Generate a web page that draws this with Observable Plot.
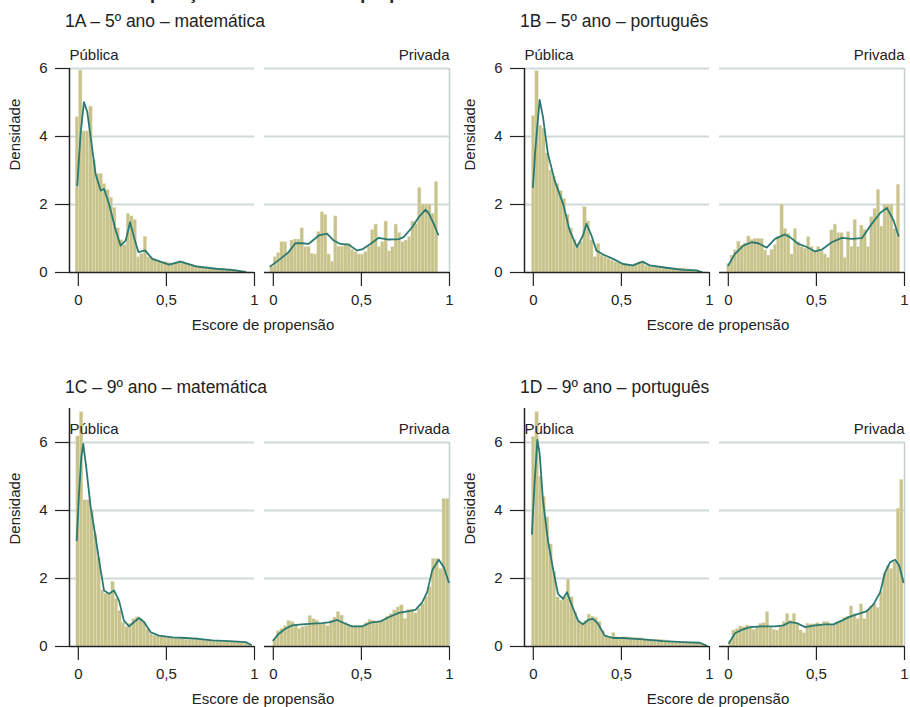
<!DOCTYPE html>
<html><head><meta charset="utf-8">
<script src="https://cdn.jsdelivr.net/npm/d3@7"></script>
<script src="https://cdn.jsdelivr.net/npm/@observablehq/plot@0.6"></script>
<style>
body{margin:0;background:#fff;}
#page{position:relative;width:910px;height:707px;overflow:hidden;font-family:"Liberation Sans",Arial,sans-serif;color:#222;}
.title{position:absolute;font-size:17.5px;line-height:17px;white-space:nowrap;}
.maintitle{position:absolute;font-size:18px;font-weight:bold;line-height:18px;white-space:nowrap;}
.xlab{position:absolute;font-size:15px;line-height:15px;white-space:nowrap;transform:translateX(-50%);}
.panel{position:absolute;}
</style></head><body><div id="page"></div>
<script>
// ---------- text ----------
const mainTitle = "Gráfico 1 – Comparação dos escores de propensão";
const panelTitles = ["1A – 5º ano – matemática", "1B – 5º ano – português", "1C – 9º ano – matemática", "1D – 9º ano – português"];
const facets = ["Pública", "Privada"];
const xLabel = "Escore de propensão";
const yLabel = "Densidade";
const yTicks = [0, 2, 4, 6];
const xTicks = [0, 0.5, 1];
const xTickLabels = ["0", "0,5", "1"];
const gridValues = [2, 4, 6];
const xDomain = [-0.05, 1.0];
const yMaxes = [6, 6, 7, 7];

// ---------- histograms: [lo, hi] range and bar heights ----------
const range1A_pub = [-0.015, 0.95];
const hist1A_pub = [4.57, 5.94, 4.15, 4.15, 4.88, 3.3, 2.9, 2.9, 2.6, 2.43, 2.2, 1.9, 1.3, 0.95, 0.8, 1.72, 1.65, 1.55, 0.45, 0.55, 1.05, 0.45, 0.42, 0.38, 0.35, 0.3, 0.3, 0.28, 0.25, 0.28, 0.33, 0.32, 0.28, 0.25, 0.22, 0.2, 0.18, 0.16, 0.15, 0.14, 0.12, 0.12, 0.1, 0.12, 0.1, 0.1, 0.08, 0.06, 0.05, 0.04];
const range1A_priv = [-0.017, 0.936];
const hist1A_priv = [0.17, 0.45, 0.57, 0.89, 0.89, 0.6, 0.94, 0.97, 0.97, 1.3, 0.75, 0.75, 0.55, 0.53, 1.19, 1.77, 1.7, 0.53, 0.32, 1.65, 0.76, 0.76, 0.84, 0.84, 0.67, 0.6, 0.53, 0.53, 0.6, 0.75, 1.25, 1.41, 0.75, 0.89, 1.5, 0.62, 0.75, 1.41, 1.16, 0.89, 0.94, 1.04, 1.5, 1.43, 2.49, 2.0, 2.0, 2.0, 1.73, 2.66];
const range1B_pub = [-0.008, 0.964];
const hist1B_pub = [4.6, 5.92, 4.32, 4.23, 3.5, 3.0, 2.82, 2.6, 2.4, 2.17, 1.7, 1.3, 0.95, 0.75, 0.9, 1.92, 1.5, 0.95, 0.45, 0.84, 0.5, 0.45, 0.4, 0.35, 0.3, 0.28, 0.25, 0.22, 0.2, 0.2, 0.25, 0.3, 0.28, 0.2, 0.18, 0.15, 0.15, 0.14, 0.12, 0.12, 0.12, 0.1, 0.1, 0.12, 0.12, 0.1, 0.08, 0.06, 0.04, 0.03];
const range1B_priv = [-0.006, 0.975];
const hist1B_priv = [0.25, 0.5, 0.65, 0.91, 0.79, 0.86, 1.06, 0.96, 0.99, 0.99, 0.99, 0.65, 0.5, 0.67, 0.81, 1.04, 2.0, 1.28, 1.14, 0.53, 1.28, 0.89, 0.75, 0.7, 1.04, 0.75, 0.63, 0.75, 0.62, 0.53, 0.43, 1.24, 1.41, 1.16, 1.16, 0.43, 1.19, 0.75, 1.55, 0.75, 1.38, 1.25, 0.75, 1.63, 1.87, 2.43, 1.35, 2.0, 2.0, 2.0, 1.28, 2.58];
const range1C_pub = [-0.011, 0.98];
const hist1C_pub = [6.18, 6.89, 4.3, 4.3, 4.0, 3.3, 2.6, 1.65, 1.55, 1.55, 1.9, 1.4, 1.05, 0.7, 0.57, 0.67, 0.8, 0.86, 0.8, 0.7, 0.5, 0.37, 0.32, 0.3, 0.28, 0.27, 0.25, 0.25, 0.24, 0.22, 0.22, 0.2, 0.2, 0.22, 0.25, 0.22, 0.2, 0.18, 0.16, 0.15, 0.14, 0.14, 0.13, 0.13, 0.12, 0.12, 0.12, 0.1, 0.08, 0.05];
const range1C_priv = [0.0, 1.0];
const hist1C_priv = [0.2, 0.45, 0.52, 0.6, 0.75, 0.72, 0.65, 0.52, 0.57, 0.6, 0.9, 0.8, 0.76, 0.67, 0.66, 0.6, 0.76, 0.85, 1.01, 0.91, 0.7, 0.62, 0.6, 0.6, 0.6, 0.6, 0.7, 0.78, 0.76, 0.72, 0.76, 0.76, 0.88, 0.95, 1.06, 1.15, 1.21, 0.81, 1.08, 1.08, 0.98, 1.11, 1.25, 1.45, 1.75, 2.58, 2.58, 2.28, 4.34, 4.34];
const range1D_pub = [-0.008, 0.98];
const hist1D_pub = [6.16, 6.89, 5.0, 4.4, 3.8, 3.0, 2.2, 1.45, 1.35, 1.45, 1.97, 1.45, 1.0, 0.75, 0.69, 0.75, 0.94, 0.88, 0.84, 0.72, 0.45, 0.3, 0.27, 0.4, 0.27, 0.25, 0.27, 0.27, 0.26, 0.25, 0.25, 0.24, 0.22, 0.2, 0.2, 0.2, 0.2, 0.19, 0.18, 0.16, 0.14, 0.12, 0.12, 0.11, 0.11, 0.11, 0.1, 0.1, 0.09, 0.06];
const range1D_priv = [0.004, 0.994];
const hist1D_priv = [0.16, 0.47, 0.52, 0.59, 0.57, 0.62, 0.57, 0.49, 0.57, 0.67, 0.69, 1.01, 0.55, 0.49, 0.47, 0.59, 0.72, 0.96, 0.76, 0.96, 0.65, 0.47, 0.39, 0.67, 0.65, 0.65, 0.69, 0.65, 0.73, 0.72, 0.65, 0.62, 0.72, 0.76, 0.84, 0.88, 1.18, 0.96, 0.81, 1.24, 0.81, 1.06, 1.18, 1.25, 1.14, 1.6, 2.14, 2.38, 2.28, 2.48, 4.05, 4.9];

// ---------- density curves ----------
const dens1A_pub_x = [-0.006, 0.013, 0.032, 0.051, 0.07, 0.098, 0.127, 0.146, 0.174, 0.212, 0.24, 0.269, 0.294, 0.316, 0.341, 0.379, 0.42, 0.515, 0.58, 0.667, 0.78, 0.894, 0.95];
const dens1A_pub_y = [2.56, 4.08, 5.01, 4.72, 3.98, 2.9, 2.41, 2.46, 2.02, 1.24, 0.79, 0.94, 1.48, 1.04, 0.6, 0.65, 0.4, 0.23, 0.32, 0.18, 0.11, 0.06, 0.01];
const dens1A_priv_x = [-0.017, 0.04, 0.087, 0.125, 0.163, 0.2, 0.258, 0.305, 0.343, 0.38, 0.428, 0.475, 0.504, 0.551, 0.598, 0.655, 0.712, 0.74, 0.788, 0.826, 0.864, 0.883, 0.911, 0.936];
const dens1A_priv_y = [0.18, 0.4, 0.6, 0.86, 0.86, 0.84, 1.09, 1.14, 0.94, 0.84, 0.82, 0.65, 0.68, 0.84, 1.02, 0.97, 0.98, 1.04, 1.33, 1.63, 1.85, 1.73, 1.43, 1.11];
const dens1B_pub_x = [-0.002, 0.011, 0.036, 0.055, 0.083, 0.121, 0.169, 0.206, 0.248, 0.282, 0.301, 0.33, 0.358, 0.396, 0.453, 0.509, 0.566, 0.619, 0.661, 0.756, 0.85, 0.926, 0.955];
const dens1B_pub_y = [2.51, 3.59, 5.08, 4.57, 3.49, 2.71, 2.02, 1.24, 0.75, 1.09, 1.43, 1.09, 0.65, 0.53, 0.4, 0.25, 0.21, 0.32, 0.21, 0.14, 0.08, 0.06, 0.01];
const dens1B_priv_x = [0.0, 0.038, 0.085, 0.133, 0.17, 0.218, 0.265, 0.322, 0.35, 0.398, 0.445, 0.492, 0.53, 0.587, 0.644, 0.7, 0.758, 0.814, 0.862, 0.9, 0.938, 0.966];
const dens1B_priv_y = [0.21, 0.55, 0.79, 0.89, 0.86, 0.73, 0.99, 1.12, 1.04, 0.84, 0.75, 0.62, 0.67, 0.89, 1.02, 0.99, 1.01, 1.43, 1.75, 1.9, 1.53, 1.08];
const dens1C_pub_x = [-0.009, 0.004, 0.017, 0.028, 0.045, 0.07, 0.098, 0.121, 0.146, 0.174, 0.203, 0.231, 0.259, 0.288, 0.316, 0.345, 0.373, 0.411, 0.458, 0.534, 0.61, 0.667, 0.761, 0.856, 0.95, 0.98];
const dens1C_pub_y = [3.12, 4.49, 5.57, 5.96, 5.27, 4.1, 3.22, 2.43, 1.65, 1.55, 1.65, 1.35, 0.76, 0.59, 0.72, 0.84, 0.72, 0.42, 0.32, 0.27, 0.25, 0.23, 0.18, 0.16, 0.13, 0.05];
const dens1C_priv_x = [0.0, 0.03, 0.068, 0.106, 0.163, 0.22, 0.277, 0.324, 0.362, 0.4, 0.447, 0.504, 0.551, 0.608, 0.655, 0.712, 0.769, 0.807, 0.845, 0.873, 0.902, 0.939, 0.968, 0.996];
const dens1C_priv_y = [0.18, 0.37, 0.52, 0.62, 0.65, 0.67, 0.69, 0.72, 0.78, 0.69, 0.59, 0.59, 0.7, 0.74, 0.86, 0.99, 1.04, 1.08, 1.3, 1.6, 2.24, 2.55, 2.33, 1.89];
const dens1D_pub_x = [-0.008, 0.008, 0.023, 0.036, 0.055, 0.083, 0.112, 0.14, 0.169, 0.191, 0.216, 0.254, 0.282, 0.311, 0.339, 0.367, 0.405, 0.453, 0.509, 0.557, 0.623, 0.737, 0.85, 0.945, 0.983];
const dens1D_pub_y = [3.31, 4.88, 6.08, 5.67, 4.29, 3.12, 2.28, 1.55, 1.4, 1.6, 1.25, 0.76, 0.65, 0.78, 0.81, 0.67, 0.32, 0.25, 0.25, 0.23, 0.21, 0.16, 0.13, 0.11, 0.03];
const dens1D_priv_x = [0.004, 0.038, 0.076, 0.123, 0.189, 0.265, 0.313, 0.35, 0.388, 0.436, 0.492, 0.549, 0.597, 0.644, 0.691, 0.739, 0.786, 0.824, 0.862, 0.89, 0.919, 0.947, 0.97, 0.994];
const dens1D_priv_y = [0.1, 0.39, 0.49, 0.57, 0.59, 0.59, 0.62, 0.72, 0.69, 0.57, 0.62, 0.65, 0.65, 0.76, 0.88, 0.96, 1.04, 1.24, 1.6, 2.19, 2.48, 2.55, 2.38, 1.89];

// ---------- assembly ----------
const panels = [
  {range: [range1A_pub, range1A_priv], hist: [hist1A_pub, hist1A_priv], dx: [dens1A_pub_x, dens1A_priv_x], dy: [dens1A_pub_y, dens1A_priv_y]},
  {range: [range1B_pub, range1B_priv], hist: [hist1B_pub, hist1B_priv], dx: [dens1B_pub_x, dens1B_priv_x], dy: [dens1B_pub_y, dens1B_priv_y]},
  {range: [range1C_pub, range1C_priv], hist: [hist1C_pub, hist1C_priv], dx: [dens1C_pub_x, dens1C_priv_x], dy: [dens1C_pub_y, dens1C_priv_y]},
  {range: [range1D_pub, range1D_priv], hist: [hist1D_pub, hist1D_priv], dx: [dens1D_pub_x, dens1D_priv_x], dy: [dens1D_pub_y, dens1D_priv_y]}
];

const barFill = "#c8c38b";
const lineColor = "#2b7a72";
const gridColor = "#d0d9d9";
const ink = "#222";
const unitPx = 34;
const mTop = 28, mBottom = 45;

function makePlot(cfg, ymax) {
  const bars = [], pts = [];
  facets.forEach((f, k) => {
    const h = cfg.hist[k], r = cfg.range[k], w = (r[1] - r[0]) / h.length;
    h.forEach((v, i) => bars.push({fx: f, x1: r[0] + i * w, x2: r[0] + (i + 1) * w, y: v}));
    cfg.dx[k].forEach((x, i) => pts.push({fx: f, x, y: cfg.dy[k][i]}));
  });
  const labelLevel = d3.max(gridValues);
  const yMid = (yTicks[0] + yTicks[yTicks.length - 1]) / 2;
  return Plot.plot({
    width: 455,
    height: mTop + ymax * unitPx + mBottom,
    marginLeft: 68, marginRight: 5, marginTop: mTop, marginBottom: mBottom,
    style: {fontFamily: '"Liberation Sans", Arial, sans-serif', fontSize: "15px", color: ink, background: "transparent", overflow: "visible"},
    fx: {domain: facets, paddingInner: 0.05, paddingOuter: 0, axis: null, label: null},
    x: {domain: xDomain, axis: null},
    y: {domain: [0, ymax], axis: null},
    marks: [
      Plot.ruleY(gridValues, {stroke: gridColor, strokeWidth: 2}),
      Plot.ruleX([{fx: facets[1], x: xTicks[xTicks.length - 1]}], {fx: "fx", x: "x", y1: 0, y2: labelLevel, stroke: "#c6cfcf", strokeWidth: 1.5}),
      Plot.rect(bars, {fx: "fx", x1: "x1", x2: "x2", y1: 0, y2: "y", fill: barFill, stroke: "#e4e2c6", strokeWidth: 0.4}),
      Plot.line(pts, {fx: "fx", x: "x", y: "y", stroke: lineColor, strokeWidth: 1.8}),
      Plot.ruleY([0], {stroke: ink, strokeWidth: 1.5}),
      Plot.ruleX([{fx: facets[0], x: xDomain[0]}], {fx: "fx", x: "x", y1: 0, y2: ymax, stroke: ink, strokeWidth: 1.5}),
      Plot.axisX(xTicks, {tickSize: 14, tickPadding: 8, tickFormat: d => xTickLabels[xTicks.indexOf(d)], label: null, stroke: ink, strokeWidth: 1.2}),
      Plot.axisY(yTicks, {facetAnchor: "left", tickSize: 14, tickPadding: 8, tickFormat: d => String(d), label: null, stroke: ink, strokeWidth: 1.2}),
      Plot.text([{fx: facets[0], y: labelLevel, t: facets[0]}], {fx: "fx", y: "y", text: "t", frameAnchor: "left", textAnchor: "start", dy: -13, fill: ink}),
      Plot.text([{fx: facets[1], y: labelLevel, t: facets[1]}], {fx: "fx", y: "y", text: "t", frameAnchor: "right", textAnchor: "end", dy: -13, fill: ink}),
      Plot.text([{fx: facets[0], y: yMid, t: yLabel}], {fx: "fx", y: "y", text: "t", frameAnchor: "left", rotate: -90, dx: -54, fill: ink})
    ]
  });
}

const page = document.getElementById("page");
const mt = document.createElement("div");
mt.className = "maintitle"; mt.textContent = mainTitle;
mt.style.left = "12px"; mt.style.top = "-16px";
page.appendChild(mt);

const pos = [{left: 0, top: 40}, {left: 455, top: 40}, {left: 0, top: 380}, {left: 455, top: 380}];
const titleTops = [13, 13, 379, 379];
panels.forEach((cfg, p) => {
  const ymax = yMaxes[p];
  const holder = document.createElement("div");
  holder.className = "panel";
  holder.style.left = pos[p].left + "px";
  holder.style.top = pos[p].top + "px";
  holder.appendChild(makePlot(cfg, ymax));
  page.appendChild(holder);

  const t = document.createElement("div");
  t.className = "title"; t.textContent = panelTitles[p];
  t.style.left = (pos[p].left + 65) + "px";
  t.style.top = titleTops[p] + "px";
  page.appendChild(t);

  const xl = document.createElement("div");
  xl.className = "xlab"; xl.textContent = xLabel;
  xl.style.left = (pos[p].left + 263) + "px";
  xl.style.top = (pos[p].top + mTop + ymax * unitPx + 45) + "px";
  page.appendChild(xl);
});
</script>
</body></html>
